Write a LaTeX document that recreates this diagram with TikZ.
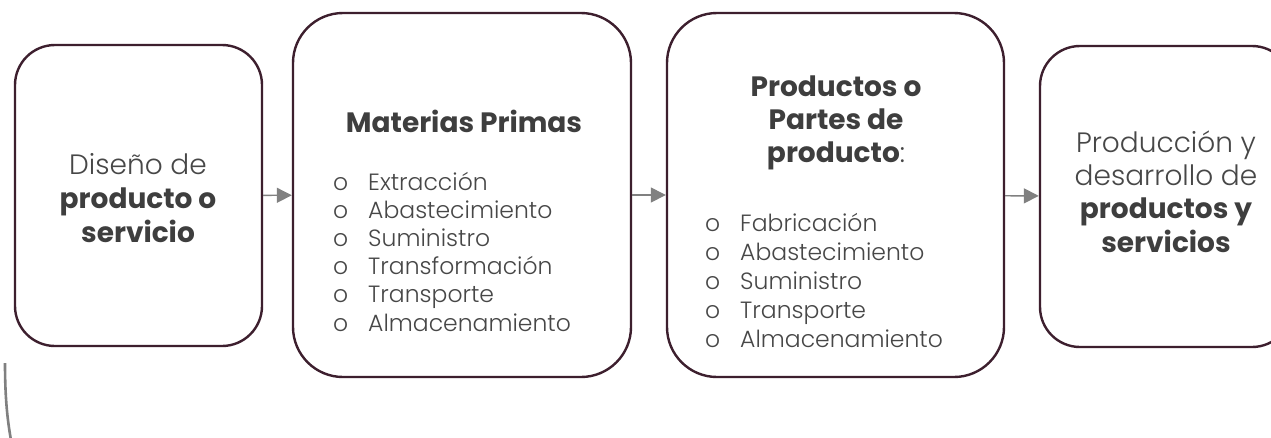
\documentclass[tikz,border=0pt]{standalone}
\usepackage{fontspec}
\setmainfont{Poppins}[UprightFont={* Light},BoldFont={* Bold}]
\usetikzlibrary{arrows.meta}
\definecolor{framecol}{HTML}{3D1F2E}
\definecolor{lighttxt}{HTML}{474747}
\definecolor{boldtxt}{HTML}{3E3E3E}
\definecolor{arrcol}{HTML}{808080}
\begin{document}
\begin{tikzpicture}[x=1pt,y=-1pt,
  box/.style={draw=framecol, line width=2.4pt, fill=white, inner sep=0pt},
  flow/.style={draw=arrcol, line width=1.4pt, -{Triangle[length=15pt,width=15pt]}},
  big/.style={anchor=base, inner sep=0pt, font=\fontsize{28}{32}\selectfont, text=lighttxt},
  bigb/.style={anchor=base, inner sep=0pt, font=\fontsize{28}{32}\selectfont\bfseries, text=boldtxt},
  item/.style={anchor=base west, inner sep=0pt, font=\fontsize{23.5}{27}\selectfont, text=lighttxt},
  deco/.style={draw=arrcol, line width=2.6pt}]
\useasboundingbox (0,0) rectangle (1271,437);
\clip (0,0) rectangle (1271,437);
\fill[white] (0,0) rectangle (1271,437);
% boxes
\node[box, minimum width=247pt, minimum height=301pt, rounded corners=40pt] (b1) at (138.5,195.5) {};
\node[box, minimum width=338pt, minimum height=364pt, rounded corners=50pt] (b2) at (462,195) {};
\node[box, minimum width=337pt, minimum height=364pt, rounded corners=50pt] (b3) at (835.5,195) {};
\node[box, minimum width=252pt, minimum height=301pt, rounded corners=40pt] (b4) at (1166,196.5) {};
% arrows
\draw[flow] (b1) -- (b2);
\draw[flow] (b2) -- (b3);
\draw[flow] (b3) -- (b4);
% box 1 text
\node[big] (t1a) at (138,174) {Diseño de};
\node[bigb] (t1b) at (138,208) {producto o};
\node[bigb] (t1c) at (138,242) {servicio};
% box 2 text
\node[bigb] (t2h) at (464,132) {Materias Primas};
\foreach \i/\t in {0/Extracción,1/Abastecimiento,2/Suministro,3/Transformación,4/Transporte,5/Almacenamiento}{
  \node[item] (m\i o) at (333,{190+28.2*\i}) {o};
  \node[item] (m\i) at (368,{190+28.2*\i}) {\t};
}
% box 3 text
\node[bigb] (t3a) at (836,96) {Productos o};
\node[bigb] (t3b) at (836,129) {Partes de};
\node[big] (t3c) at (836,162) {\textbf{\color{boldtxt}producto}:};
\foreach \i/\t in {0/Fabricación,1/Abastecimiento,2/Suministro,3/Transporte,4/Almacenamiento}{
  \node[item] (p\i o) at (705,{231+29*\i}) {o};
  \node[item] (p\i) at (740,{231+29*\i}) {\t};
}
% box 4 text
\node[big] (t4a) at (1166,152) {Producción y};
\node[big] (t4b) at (1166,185) {desarrollo de};
\node[bigb] (t4c) at (1166,218) {productos y};
\node[bigb] (t4d) at (1166,252) {servicios};
% decorative stroke
\draw[deco] (5,363) .. controls (5,395) and (7,418) .. (11,440);
\end{tikzpicture}
\end{document}
